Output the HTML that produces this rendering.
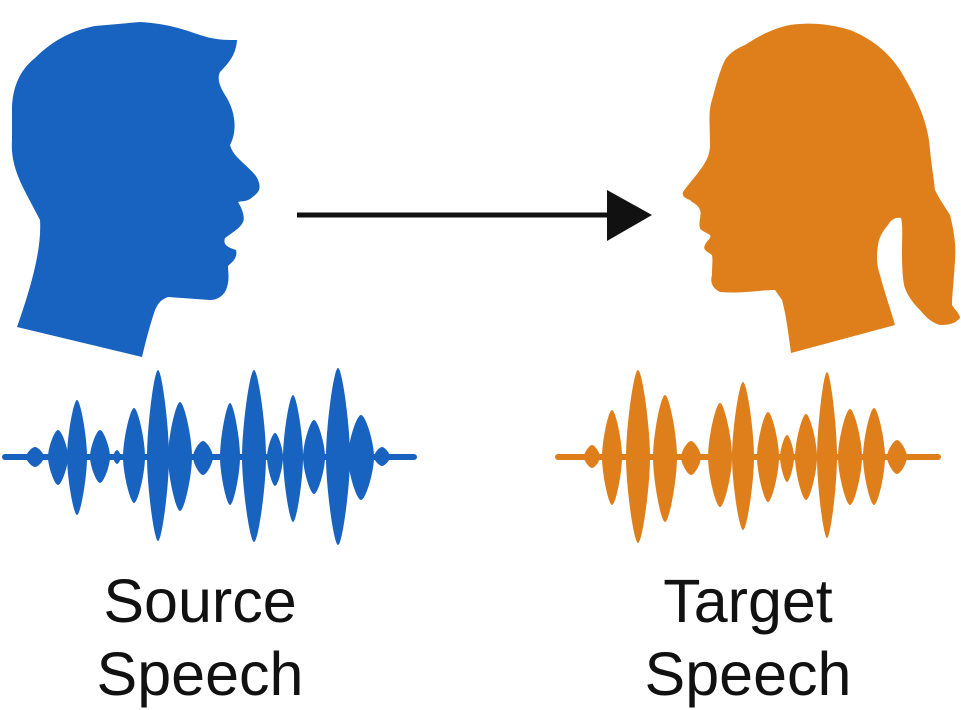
<!DOCTYPE html>
<html><head><meta charset="utf-8"><style>
html,body{margin:0;padding:0;background:#fff;}
svg{display:block;}
text{font-family:"Liberation Sans",sans-serif;fill:#111;}
</style></head><body>
<svg width="961" height="710" viewBox="0 0 961 710">
<path fill="#1862c0" d="M17,327 C30,290 42,250 40,220 C25,190 10,170 12,140 L12,110 C12,85 22,68 35,58 C55,38 75,30 95,26 L140,22 C170,24 185,30 200,35 C215,40 225,40 237,40 C236,52 232,60 220,72 C216,80 222,90 225,95 C235,110 238,130 230,145 C232,152 236,156 240,160 C248,168 256,174 258,180 C262,190 258,193 250,199 C245,202 240,201 238,202 C243,210 245,218 243,222 C240,228 236,230 225,238 C223,244 226,247 236,250 C238,258 232,262 228,266 C228,272 230,280 226,290 C222,298 215,300 210,300 L168,297 C160,300 158,304 155,310 C150,325 146,340 142,357 Z"/>
<path fill="#de7f1c" d="M791,353 C788,330 786,315 782,300 L775,290 C760,290 740,294 720,292 C712,288 710,282 712,275 C712,265 713,260 712,255 C708,252 702,250 705,245 C707,240 712,238 710,235 C705,232 700,230 700,228 C698,222 702,215 700,210 C698,204 692,203 690,200 C684,198 682,196 683,192 C690,182 696,176 700,170 C708,160 710,152 710,145 C710,125 708,112 712,100 C716,85 720,70 725,60 C730,52 738,48 745,45 C760,35 775,28 790,25 C810,22 830,24 850,30 C875,40 890,55 900,70 C915,95 928,120 930,150 C932,168 934,180 935,190 C940,200 945,207 950,215 C955,235 956,248 955,260 C954,280 952,295 952,305 C955,310 960,314 960,318 C955,324 948,325 940,325 C930,322 925,316 920,310 C910,300 906,292 904,285 C902,272 902,262 902,250 C902,238 903,225 901,218 C895,217 891,220 888,225 C882,232 879,238 878,245 C876,258 877,266 880,275 C884,290 890,308 895,325 Z"/>
<line x1="297" y1="215" x2="612" y2="215" stroke="#111" stroke-width="5"/>
<polygon points="607,190 652,215 607,241" fill="#111"/>
<g id="waves"></g>
<text x="200" y="622" font-size="61" text-anchor="middle">Source</text>
<text x="200" y="695" font-size="61" text-anchor="middle">Speech</text>
<text x="748" y="622" font-size="61" text-anchor="middle">Target</text>
<text x="748" y="695" font-size="61" text-anchor="middle">Speech</text>
</svg>
<script>
// waveform lobes: center x, half width, top y, bottom y
const sourceX=[35,58,77,100,117,134,158,180,203,230,254,275,293,314,338,361,382];
const sourceHW=[9,10,10,10,4,11,11,12,10,10,12,8,10,11,12,13,8];
const sourceTop=[447,430,400,430,450,408,370,402,441,403,370,433,395,420,368,415,447];
const sourceBot=[467,485,515,483,464,503,541,511,475,505,542,486,522,494,545,500,466];
const targetX=[592,612,638,665,691,720,743,768,787,806,827,850,874,897];
const targetHW=[8,10,12,12,10,12,11,11,7,11,10,12,11,10];
const targetTop=[445,410,370,395,441,403,382,412,435,414,372,409,408,440];
const targetBot=[468,505,543,522,475,507,530,502,482,500,538,505,505,474];
const CY=457;
const g=document.getElementById('waves');
const NS='http://www.w3.org/2000/svg';
function drawWave(xs,hw,tops,bots,color,x0,x1,name){
  const base=document.createElementNS(NS,'line');
  base.setAttribute('x1',x0);base.setAttribute('x2',x1);
  base.setAttribute('y1',CY);base.setAttribute('y2',CY);
  base.setAttribute('stroke',color);base.setAttribute('stroke-width',6);
  base.setAttribute('stroke-linecap','round');
  
  
  g.appendChild(base);
  for(let i=0;i<xs.length;i++){
    const x=xs[i],w=hw[i],t=tops[i],b=bots[i];
    const k=0.35,m=0.35;
    const d=`M${x-w},${CY} C${x-w},${CY-(CY-t)*k} ${x-w*m},${t} ${x},${t} C${x+w*m},${t} ${x+w},${CY-(CY-t)*k} ${x+w},${CY} C${x+w},${CY+(b-CY)*k} ${x+w*m},${b} ${x},${b} C${x-w*m},${b} ${x-w},${CY+(b-CY)*k} ${x-w},${CY} Z`;
    const p=document.createElementNS(NS,'path');
    p.setAttribute('d',d);p.setAttribute('fill',color);
    
    
    g.appendChild(p);
  }
}
drawWave(sourceX,sourceHW,sourceTop,sourceBot,'#1862c0',5,414,'source-waveform');
drawWave(targetX,targetHW,targetTop,targetBot,'#de7f1c',558,938,'target-waveform');
</script>
</body></html>
